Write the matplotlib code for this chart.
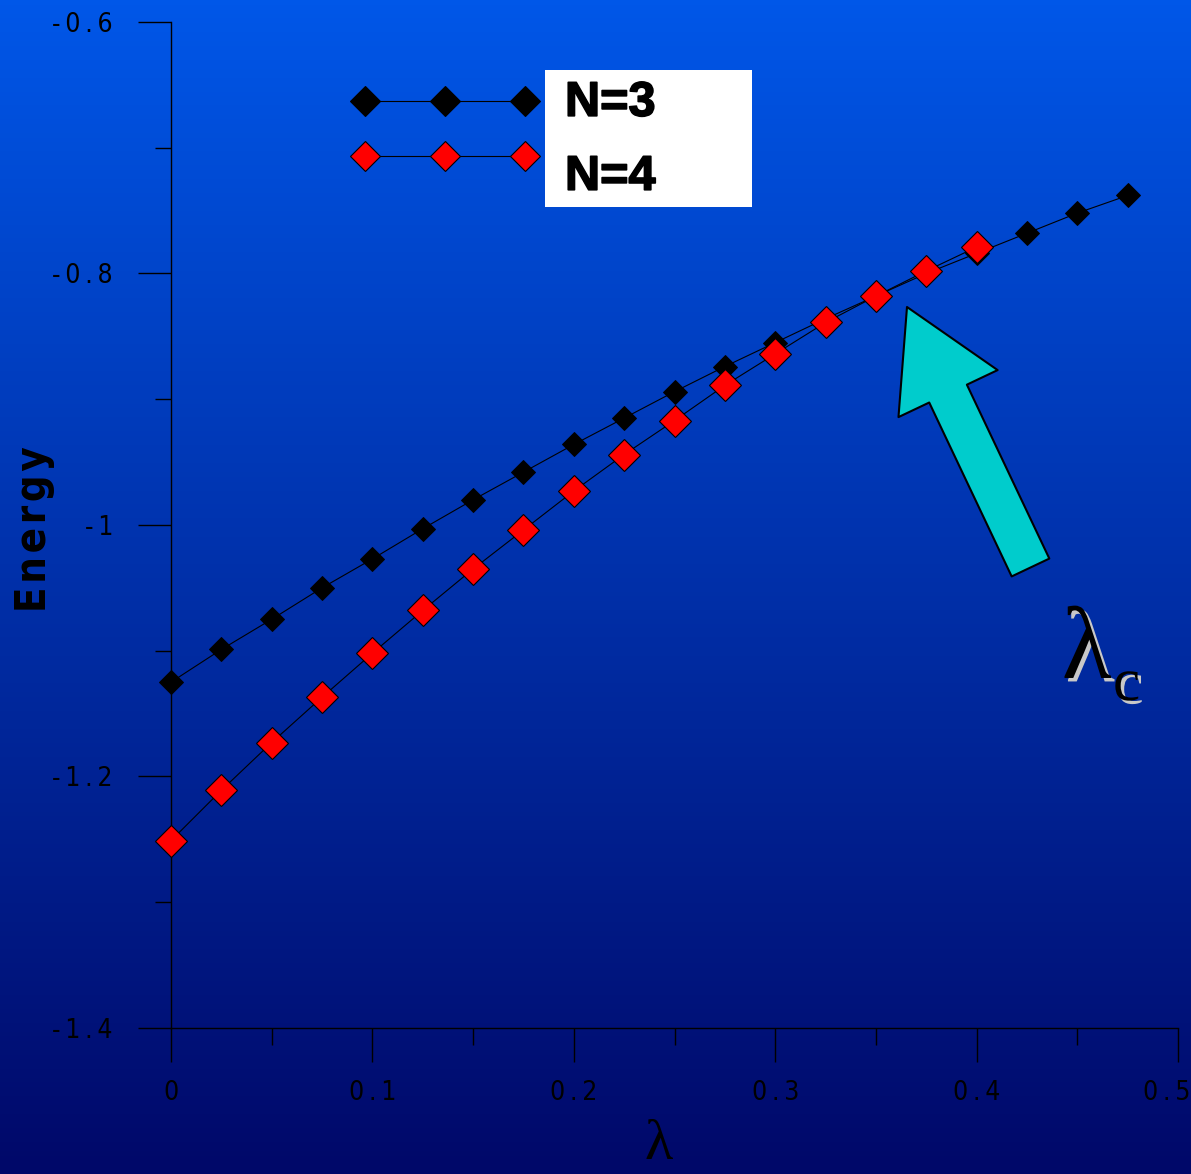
import numpy as np
import matplotlib
matplotlib.use('Agg')
import matplotlib.pyplot as plt
import matplotlib.patheffects as pe
import matplotlib.transforms as mtransforms
from matplotlib.patches import Rectangle
from matplotlib.lines import Line2D

# -------- Data --------
lam3 = [0.0, 0.025, 0.05, 0.075, 0.1, 0.125, 0.15, 0.175, 0.2, 0.225,
        0.25, 0.275, 0.3, 0.325, 0.35, 0.375, 0.4, 0.425, 0.45, 0.475]
energy3 = [-1.125, -1.099, -1.075, -1.050, -1.027, -1.003, -0.980, -0.958, -0.936, -0.915,
           -0.894, -0.874, -0.855, -0.836, -0.818, -0.800, -0.784, -0.768, -0.752, -0.738]

lam4 = [0.0, 0.025, 0.05, 0.075, 0.1, 0.125, 0.15, 0.175, 0.2, 0.225,
        0.25, 0.275, 0.3, 0.325, 0.35, 0.375, 0.4]
energy4 = [-1.251, -1.211, -1.173, -1.137, -1.102, -1.068, -1.035, -1.004, -0.973, -0.944,
           -0.917, -0.889, -0.864, -0.839, -0.818, -0.798, -0.779]

series_labels = ['N=3', 'N=4']

yticks = [-1.4, -1.2, -1.0, -0.8, -0.6]
ytick_labels = ['-\u20091\u2009.\u20094', '-\u20091\u2009.\u20092', '-\u20091',
                '-\u20090\u2009.\u20098', '-\u20090\u2009.\u20096']
xticks = [0.0, 0.1, 0.2, 0.3, 0.4, 0.5]
xtick_labels = ['0', '0\u2009.\u20091', '0\u2009.\u20092', '0\u2009.\u20093',
                '0\u2009.\u20094', '0\u2009.\u20095']

narrow = ['Liberation Sans Narrow', 'DejaVu Sans']
serif = ['Liberation Serif', 'DejaVu Serif']

fig = plt.figure(figsize=(11.91, 11.74), dpi=100)

# -------- Gradient background --------
bg = fig.add_axes([0, 0, 1, 1], zorder=-5)
top = np.array([0, 87, 232]) / 255
bot = np.array([0, 8, 105]) / 255
t = np.linspace(0, 1, 256)[:, None]
grad = (top[None, :] * (1 - t) + bot[None, :] * t)[:, None, :]
bg.imshow(grad, aspect='auto', extent=[0, 1, 0, 1])
bg.axis('off')

# -------- Main axes --------
ax = fig.add_axes([0.1436, 0.1244, 0.8455, 0.8569])
ax.set_facecolor('none')

ax.plot(lam3, energy3, color='black', lw=0.8, marker='D', ms=12.7,
        mfc='black', mec='black', mew=0.7, clip_on=False, zorder=3)
ax.plot(lam4, energy4, color='black', lw=0.8, marker='D', ms=16.8,
        mfc='#ff0000', mec='black', mew=0.8, clip_on=False, zorder=4)

ax.set_xlim(0, 0.5)
ax.set_ylim(-1.4, -0.6)
for s in ['top', 'right']:
    ax.spines[s].set_visible(False)
for s in ['left', 'bottom']:
    ax.spines[s].set_linewidth(1.0)
    ax.spines[s].set_color('black')

ax.set_yticks(yticks)
ax.set_yticklabels(ytick_labels)
ax.set_yticks([-1.3, -1.1, -0.9, -0.7], minor=True)
ax.set_xticks(xticks)
ax.set_xticklabels(xtick_labels)
ax.set_xticks([0.05, 0.15, 0.25, 0.35, 0.45], minor=True)

ax.tick_params(axis='y', which='major', direction='out', length=23.8, width=1.0,
               pad=18, colors='black', labelsize=19)
ax.tick_params(axis='y', which='minor', direction='out', length=11.5, width=1.0)
ax.tick_params(axis='x', which='major', direction='out', length=24.5, width=1.0,
               pad=13, colors='black', labelsize=19)
ax.tick_params(axis='x', which='minor', direction='out', length=12, width=1.0)
for lab in ax.get_xticklabels() + ax.get_yticklabels():
    lab.set_family(narrow)
    lab.set_stretch('condensed')

# last x label sits at the figure edge: right-align it so it stays inside
last = ax.get_xticklabels()[-1]
last.set_ha('right')
last.set_transform(last.get_transform() +
                   mtransforms.ScaledTranslation(12 / 100, 0, fig.dpi_scale_trans))

ax.set_ylabel('E\u200an\u200ae\u200ar\u200ag\u200ay', family=narrow, fontweight='bold',
              fontsize=30, color='black', fontstretch='condensed')
ax.yaxis.label.set_va('center')
ax.yaxis.set_label_coords(-0.136, 0.496)

ax.set_xlabel('λ', family=serif, fontsize=42, color='black')
ax.xaxis.label.set_va('bottom')
ax.xaxis.set_label_coords(0.4846, -0.142)

# -------- Legend --------
fig.patches.append(Rectangle((0.4576, 0.8237), 0.1738, 0.1167, transform=fig.transFigure,
                             facecolor='white', edgecolor='none', zorder=2))
leg_x = [0.3065, 0.3736, 0.4408]
for yy, fc, lab, ty in [(0.914, 'black', series_labels[0], 0.912),
                        (0.8671, '#ff0000', series_labels[1], 0.849)]:
    fig.lines.append(Line2D(leg_x, [yy] * 3, transform=fig.transFigure, color='black',
                            lw=0.8, marker='D', ms=15.3, mfc=fc, mec='black', mew=0.8))
    fig.text(0.4744, ty, lab, family=['Liberation Sans', 'DejaVu Sans'], fontweight='bold',
             fontsize=35, color='black', ha='left', va='center',
             path_effects=[pe.withStroke(linewidth=1.2, foreground='black')])

# -------- Arrow pointing at the crossing --------
ax.annotate('', xy=(907, 1174 - 307), xycoords='figure pixels',
            xytext=(1030.5, 1174 - 567.5), textcoords='figure pixels',
            arrowprops=dict(arrowstyle='simple,head_length=69,head_width=79,tail_width=30',
                            mutation_scale=1, fc='#00cccc', ec='black', lw=1.5,
                            shrinkA=0, shrinkB=0),
            annotation_clip=False, zorder=5)

# -------- lambda_c label --------
shadow = [pe.SimplePatchShadow(offset=(2.5, -2.5), shadow_rgbFace='#c8c8c8', alpha=1.0),
          pe.Normal()]
fig.text(0.8915, 0.4225, 'λ', family=serif, fontsize=74,
         color='black', ha='left', va='baseline', path_effects=shadow)
fig.text(0.9345, 0.4037, 'c', family=serif, fontsize=44,
         color='black', ha='left', va='baseline', path_effects=shadow)

fig.savefig('out.png', dpi=100)
